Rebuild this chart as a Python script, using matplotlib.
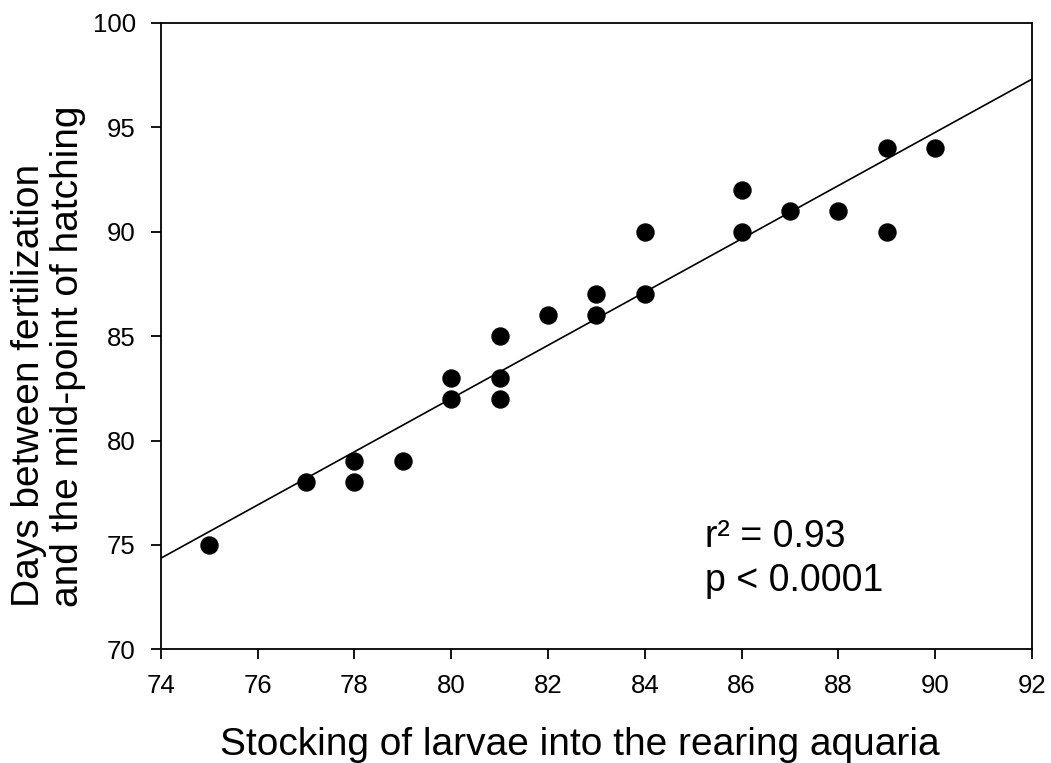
import numpy as np
import matplotlib
matplotlib.use("Agg")
import matplotlib.pyplot as plt

plt.rcParams['font.family'] = ['Liberation Sans', 'DejaVu Sans']

# stocking day vs days to mid-point of hatching
stocking = [75, 77, 78, 78, 79, 80, 80, 81, 81, 81, 82, 83, 83, 84, 84,
            86, 86, 87, 88, 89, 89, 90]
hatching = [75, 78, 79, 78, 79, 83, 82, 85, 83, 82, 86, 87, 86, 90, 87,
            92, 90, 91, 91, 94, 90, 94]

x_ticks = [74, 76, 78, 80, 82, 84, 86, 88, 90, 92]
y_ticks = [70, 75, 80, 85, 90, 95, 100]

fig = plt.figure(figsize=(10.51, 7.63), dpi=100)
ax = fig.add_axes([0.153, 0.149, 0.829, 0.821])

slope, intercept = np.polyfit(stocking, hatching, 1)
xl = np.array([74, 92])
ax.plot(xl, slope * xl + intercept, color='black', lw=1.2)

ax.scatter(stocking, hatching, s=150, color='black', zorder=3)

ax.set_xlim(74, 92)
ax.set_ylim(70, 100)
ax.set_xticks(x_ticks)
ax.set_yticks(y_ticks)
ax.tick_params(direction='out', length=7, width=1.3, labelsize=18.5, pad=11)
for sp in ax.spines.values():
    sp.set_linewidth(1.3)

fig.text(0.552, 0.0105, "Stocking of larvae into the rearing aquaria",
         fontsize=28, ha='center', va='baseline')
fig.text(0.010, 1 - 607 / 763, "Days between fertilization\nand the mid-point of hatching",
         fontsize=28, rotation=90, ha='left', va='bottom',
         multialignment='left', linespacing=1.13)

ax.text(85.24, 74.89, "r² = 0.93", fontsize=27, ha='left', va='baseline')
ax.text(85.24, 72.78, "p < 0.0001", fontsize=27, ha='left', va='baseline')

fig.savefig("out.png", dpi=100)
